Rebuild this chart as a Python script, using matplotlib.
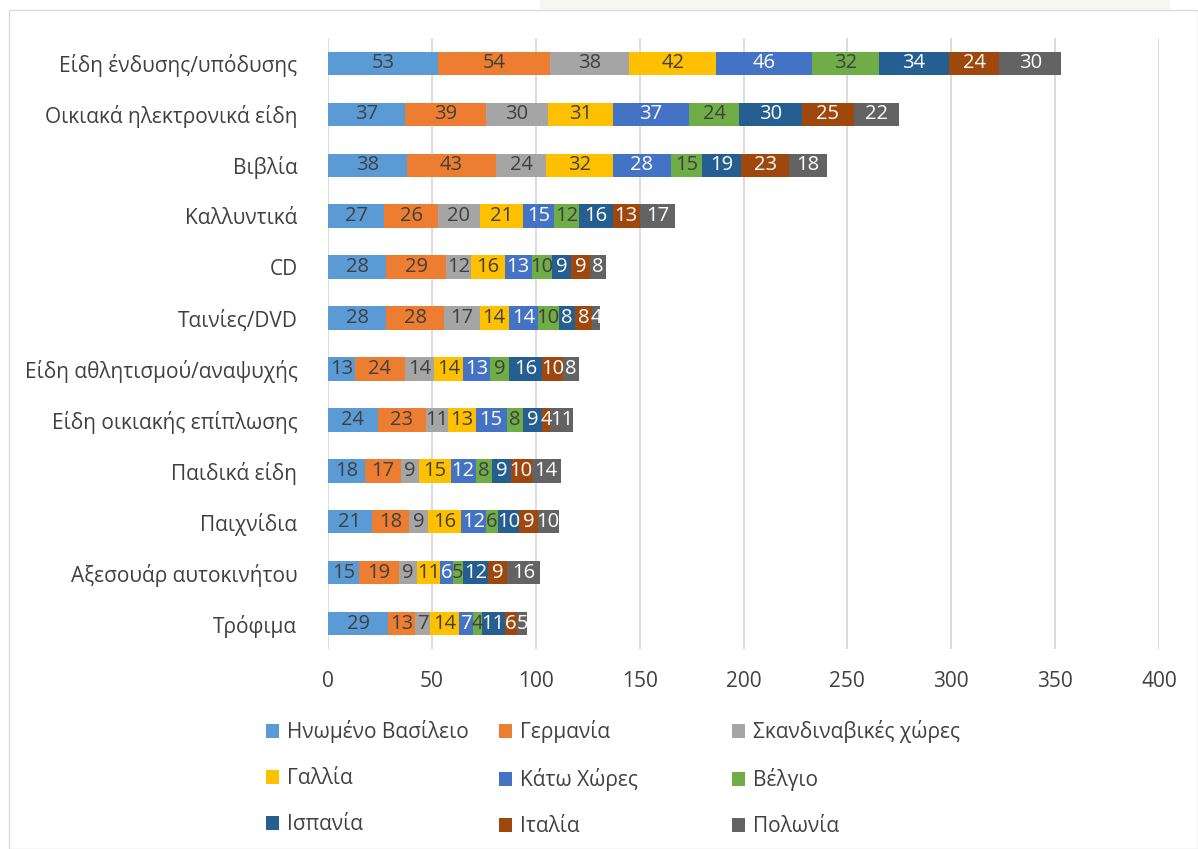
import matplotlib.pyplot as plt
from matplotlib.patches import Rectangle
import numpy as np

plt.rcParams['font.family'] = ['Open Sans', 'DejaVu Sans']

categories = ['Είδη ένδυσης/υπόδυσης', 'Οικιακά ηλεκτρονικά είδη', 'Βιβλία', 'Καλλυντικά',
              'CD', 'Ταινίες/DVD', 'Είδη αθλητισμού/αναψυχής', 'Είδη οικιακής επίπλωσης',
              'Παιδικά είδη', 'Παιχνίδια', 'Αξεσουάρ αυτοκινήτου', 'Τρόφιμα']

countries = ['Ηνωμένο Βασίλειο', 'Γερμανία', 'Σκανδιναβικές χώρες', 'Γαλλία', 'Κάτω Χώρες',
             'Βέλγιο', 'Ισπανία', 'Ιταλία', 'Πολωνία']

uk = [53, 37, 38, 27, 28, 28, 13, 24, 18, 21, 15, 29]
germany = [54, 39, 43, 26, 29, 28, 24, 23, 17, 18, 19, 13]
scandinavia = [38, 30, 24, 20, 12, 17, 14, 11, 9, 9, 9, 7]
france = [42, 31, 32, 21, 16, 14, 14, 13, 15, 16, 11, 14]
netherlands = [46, 37, 28, 15, 13, 14, 13, 15, 12, 12, 6, 7]
belgium = [32, 24, 15, 12, 10, 10, 9, 8, 8, 6, 5, 4]
spain = [34, 30, 19, 16, 9, 8, 16, 9, 9, 10, 12, 11]
italy = [24, 25, 23, 13, 9, 8, 10, 4, 10, 9, 9, 6]
poland = [30, 22, 18, 17, 8, 4, 8, 11, 14, 10, 16, 5]

series = [uk, germany, scandinavia, france, netherlands, belgium, spain, italy, poland]
colors = ['#5B9BD5', '#ED7D31', '#A5A5A5', '#FFC000', '#4472C4',
          '#70AD47', '#255E91', '#9E480E', '#636363']
label_colors = ['#404040', '#404040', '#404040', '#404040', 'white',
                '#404040', 'white', 'white', 'white']

fig = plt.figure(figsize=(11.98, 8.49), dpi=100)
# outer frame and faint strip at top
fig.patches.append(Rectangle((9 / 1198, 0), 1 - 9 / 1198, 1 - 10 / 849, transform=fig.transFigure,
                             fill=False, edgecolor='#D9D9D9', linewidth=1))
fig.patches.append(Rectangle((540 / 1198, 1 - 9 / 849), 630 / 1198, 9 / 849, transform=fig.transFigure,
                             facecolor='#F7F7F2', edgecolor='none'))

ax = fig.add_axes([328 / 1198, 1 - 649 / 849, (1159 - 328) / 1198, (649 - 38) / 849])

y = np.arange(len(categories))
left = np.zeros(len(categories))
for vals, col, tcol, name in zip(series, colors, label_colors, countries):
    vals = np.array(vals)
    bars = ax.barh(y, vals, left=left, height=0.46, color=col, label=name, zorder=2)
    ax.bar_label(bars, labels=[str(v) for v in vals], label_type='center',
                 color=tcol, fontsize=14.5, zorder=3)
    left += vals

ax.set_xlim(0, 400)
ax.set_xticks(range(0, 401, 50))
ax.set_ylim(len(categories) - 0.5, -0.5)
ax.set_yticks(y)
ax.set_yticklabels(categories)
ax.tick_params(axis='both', length=0, labelsize=15, colors='#404040')
ax.tick_params(axis='y', pad=22)
ax.tick_params(axis='x', pad=16)
ax.grid(True, axis='x', color='#D9D9D9', linewidth=1.3, zorder=0)
ax.set_axisbelow(True)
for s in ax.spines.values():
    s.set_visible(False)

# legend: three single-column blocks, filled row by row
handles, labels = ax.get_legend_handles_labels()
col_x = [258, 491, 724]
for c in range(3):
    idx = [c, c + 3, c + 6]
    leg = fig.legend([handles[i] for i in idx], [labels[i] for i in idx], ncol=1, loc='upper left',
                     bbox_to_anchor=(col_x[c] / 1198, 1 - 712 / 849), frameon=False, fontsize=15,
                     handlelength=0.6, handleheight=0.6, handletextpad=0.4, labelspacing=1.2,
                     labelcolor='#404040', borderaxespad=0)

fig.savefig('out.png', dpi=100)
